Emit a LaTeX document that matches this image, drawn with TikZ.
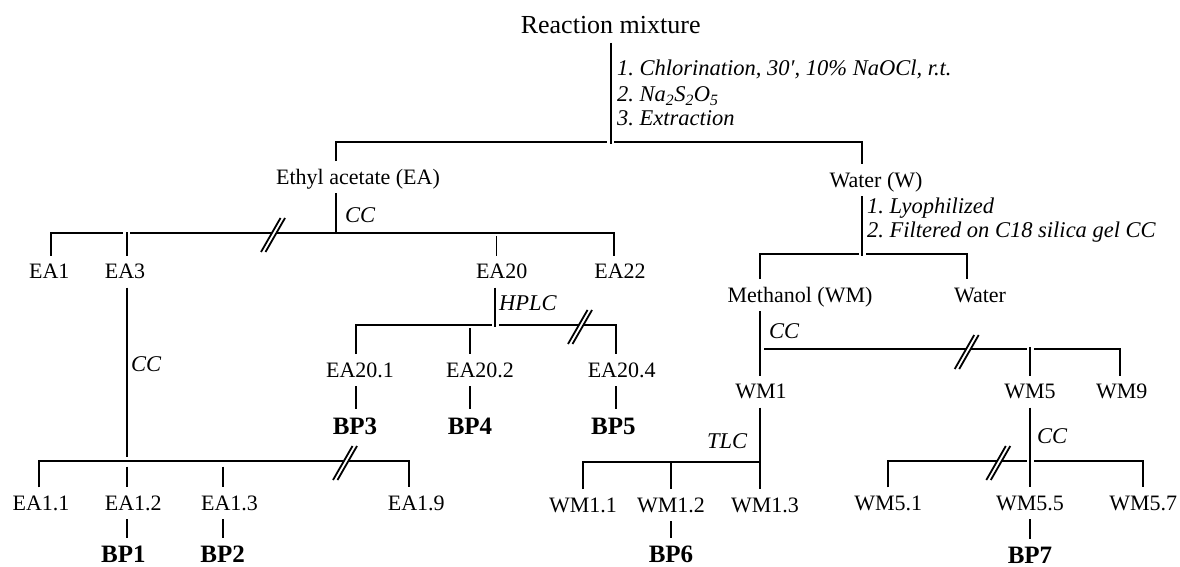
\documentclass[tikz,border=0pt]{standalone}
\usepackage{fontspec}
\setmainfont{Liberation Serif}
\usetikzlibrary{backgrounds,calc}
\frenchspacing

\tikzset{
    brk/.pic={
        \fill[white] (-12,17) -- (7.5,-17) -- (12,-17) -- (-7.5,17) -- cycle;
        \draw[line width=1.8pt] (-12,17) -- (7.5,-17);
        \draw[line width=1.8pt] (-7.5,17) -- (12,-17);
    }
}

\begin{document}
\begin{tikzpicture}[
    x=1pt, y=-1pt,
    lbl/.style={font=\fontsize{22}{24}\selectfont, inner sep=0pt, outer sep=9pt, text height=14pt, text depth=0pt},
    head/.style={lbl, font=\fontsize{26}{28}\selectfont, text height=17pt},
    bp/.style={lbl, font=\fontsize{25}{27}\selectfont\bfseries, text height=16pt},
    cond/.style={font=\fontsize{22.5}{25}\selectfont\itshape, inner sep=0pt, text height=14pt, text depth=0pt, anchor=west},
    branch/.style={line width=1.8pt},
    gapped/.style={branch, preaction={draw=white, line width=7pt}},
]
    \useasboundingbox (0,0) rectangle (1180,567);

    % === TOP ===
    \node[head] (mix) at (610.7,25.5) {Reaction mixture};
    \node[cond] (rx1) at (617,68.3) {1. Chlorination, 30′, 10\% NaOCl, r.t.};
    \node[cond] (rx2) at (617,95) {2. Na\textsubscript{2}S\textsubscript{2}O\textsubscript{5}};
    \node[cond] (rx3) at (617,118.3) {3. Extraction};
    \node[lbl] (ea) at (358,177) {Ethyl acetate (EA)};
    \node[lbl] (w) at (876,180) {Water (W)};

    % === ETHYL ACETATE SIDE ===
    \node[cond] (m-ea) at (345,215) {CC};
    \node[lbl] (ea1) at (49.3,271.7) {EA1};
    \node[lbl] (ea3) at (125,271.7) {EA3};
    \node[lbl] (ea20) at (501.7,271.7) {EA20};
    \node[lbl] (ea22) at (620,271.7) {EA22};
    \node[cond] (m-ea20) at (499,303.3) {HPLC};
    \node[cond] (m-ea3) at (131,364) {CC};
    \node[lbl] (ea201) at (360,370) {EA20.1};
    \node[lbl] (ea202) at (480,370) {EA20.2};
    \node[lbl] (ea204) at (621.7,370) {EA20.4};
    \node[bp] (bp3) at (355,426) {BP3};
    \node[bp] (bp4) at (470,426) {BP4};
    \node[bp] (bp5) at (613.3,426) {BP5};
    \node[lbl] (ea11) at (41,503.3) {EA1.1};
    \node[lbl] (ea12) at (133.3,503.3) {EA1.2};
    \node[lbl] (ea13) at (229.5,503.3) {EA1.3};
    \node[lbl] (ea19) at (416.3,503.3) {EA1.9};
    \node[bp] (bp1) at (123.3,554.5) {BP1};
    \node[bp] (bp2) at (222.7,554.5) {BP2};

    % === WATER SIDE ===
    \node[cond] (wc1) at (867,206) {1. Lyophilized};
    \node[cond] (wc2) at (867,230) {2. Filtered on C18 silica gel CC};
    \node[lbl] (wm) at (800,295) {Methanol (WM)};
    \node[lbl] (wat) at (980,295) {Water};
    \node[cond] (m-wm) at (769,331.7) {CC};
    \node[lbl] (wm1) at (761,391.7) {WM1};
    \node[lbl] (wm5) at (1030,391.7) {WM5};
    \node[lbl] (wm9) at (1121.7,391.7) {WM9};
    \node[cond] (m-wm1) at (707,441) {TLC};
    \node[cond] (m-wm5) at (1037,436) {CC};
    \node[lbl] (wm11) at (583,505) {WM1.1};
    \node[lbl] (wm12) at (671,505) {WM1.2};
    \node[lbl] (wm13) at (765,505) {WM1.3};
    \node[lbl] (wm51) at (888.3,503.3) {WM5.1};
    \node[lbl] (wm55) at (1030,503.3) {WM5.5};
    \node[lbl] (wm57) at (1143.3,503.3) {WM5.7};
    \node[bp] (bp6) at (671,554.5) {BP6};
    \node[bp] (bp7) at (1030,555.5) {BP7};

    \begin{scope}[on background layer]
        % === SPLIT: reaction mixture ===
        \coordinate (b-ea) at (336,142);
        \coordinate (b-w) at (862,142);
        \draw[branch] (b-ea |- ea.north) -- (b-ea) -- (b-w) -- (b-w |- w.north);
        \draw[gapped] (mix.south) -- ($(mix.south |- b-ea)+(0,2)$);

        % === SPLIT: ethyl acetate ===
        \coordinate (j-ea) at (336,233);
        \coordinate (b-ea1) at (51,233);
        \coordinate (b-ea3) at (126.7,233);
        \coordinate (b-ea20) at (496.5,233);
        \coordinate (b-ea22) at (614,233);
        \draw[branch] (b-ea1 |- ea1.north) -- (b-ea1) -- (b-ea22) -- (b-ea22 |- ea22.north);
        \draw[branch] (ea.south -| j-ea) -- (j-ea);
        \draw[gapped] ($(b-ea3)+(0,-1)$) -- (b-ea3 |- ea3.north);
        \draw[branch] ($(b-ea20)+(0,3)$) -- (b-ea20 |- ea20.north);
        \pic at (273,235) {brk};

        % === SPLIT: EA3 ===
        \coordinate (j-ea3) at (126.7,460.7);
        \coordinate (b-ea11) at (39.3,460.7);
        \coordinate (b-ea13) at (222.7,460.7);
        \coordinate (b-ea19) at (409.3,460.7);
        \draw[branch] (b-ea11 |- ea11.north) -- (b-ea11) -- (b-ea19) -- (b-ea19 |- ea19.north);
        \draw[branch] (ea3.south -| j-ea3) -- ($(j-ea3)+(0,-4)$);
        \draw[branch] ($(j-ea3)+(0,6)$) -- (j-ea3 |- ea12.north);
        \draw[branch] ($(b-ea13)+(0,6)$) -- (b-ea13 |- ea13.north);
        \draw[branch] (ea12.south -| j-ea3) -- (bp1.north -| j-ea3);
        \draw[branch] (ea13.south -| b-ea13) -- (bp2.north -| b-ea13);
        \pic at (345,463) {brk};

        % === SPLIT: EA20 ===
        \coordinate (j-ea20) at (495,325);
        \coordinate (b-ea201) at (356,325);
        \coordinate (b-ea202) at (470,325);
        \coordinate (b-ea204) at (616,325);
        \draw[branch] (b-ea201 |- ea201.north) -- (b-ea201) -- (b-ea204) -- (b-ea204 |- ea204.north);
        \draw[branch] ($(b-ea202)+(0,3)$) -- (b-ea202 |- ea202.north);
        \draw[gapped] (ea20.south -| j-ea20) -- ($(j-ea20)+(0,2)$);
        \draw[branch] (ea201.south -| b-ea201) -- (bp3.north -| b-ea201);
        \draw[branch] (ea202.south -| b-ea202) -- (bp4.north -| b-ea202);
        \draw[branch] (ea204.south -| b-ea204) -- (bp5.north -| b-ea204);
        \pic at (580,327) {brk};

        % === SPLIT: water ===
        \coordinate (j-w) at (862,254.3);
        \coordinate (b-wm) at (760,254.3);
        \coordinate (b-wat) at (967,254.3);
        \draw[branch] (b-wm |- wm.north) -- (b-wm) -- (b-wat) -- (b-wat |- wat.north);
        \draw[gapped] (w.south -| j-w) -- ($(j-w)+(0,2)$);

        % === SPLIT: methanol ===
        \coordinate (j-wm) at (760,349);
        \coordinate (b-wm5) at (1030,349);
        \coordinate (b-wm9) at (1120,349);
        \draw[branch] (j-wm) -- (b-wm9) -- (b-wm9 |- wm9.north);
        \draw[gapped] ($(b-wm5)+(0,-2)$) -- (wm5.north);
        \draw[gapped] (wm.south -| j-wm) -- (wm1.north -| j-wm);
        \pic at (966.7,352) {brk};

        % === SPLIT: WM1 ===
        \coordinate (j-wm1) at (760,461.7);
        \coordinate (b-wm11) at (582.7,461.7);
        \coordinate (b-wm12) at (670.7,461.7);
        \draw[branch] (b-wm11 |- wm11.north) -- (b-wm11) -- (j-wm1);
        \draw[branch] (b-wm12) -- (b-wm12 |- wm12.north);
        \draw[branch] (wm1.south -| j-wm1) -- (wm13.north -| j-wm1);
        \draw[branch] (wm12.south) -- (bp6.north);

        % === SPLIT: WM5 ===
        \coordinate (j-wm5) at (1030,460.7);
        \coordinate (b-wm51) at (888.3,460.7);
        \coordinate (b-wm57) at (1143.3,460.7);
        \draw[branch] (b-wm51 |- wm51.north) -- (b-wm51) -- (b-wm57) -- (b-wm57 |- wm57.north);
        \draw[gapped] (wm5.south) -- (wm55.north);
        \draw[branch] (wm55.south) -- (bp7.north);
        \pic at (998.3,463) {brk};
    \end{scope}
\end{tikzpicture}
\end{document}
